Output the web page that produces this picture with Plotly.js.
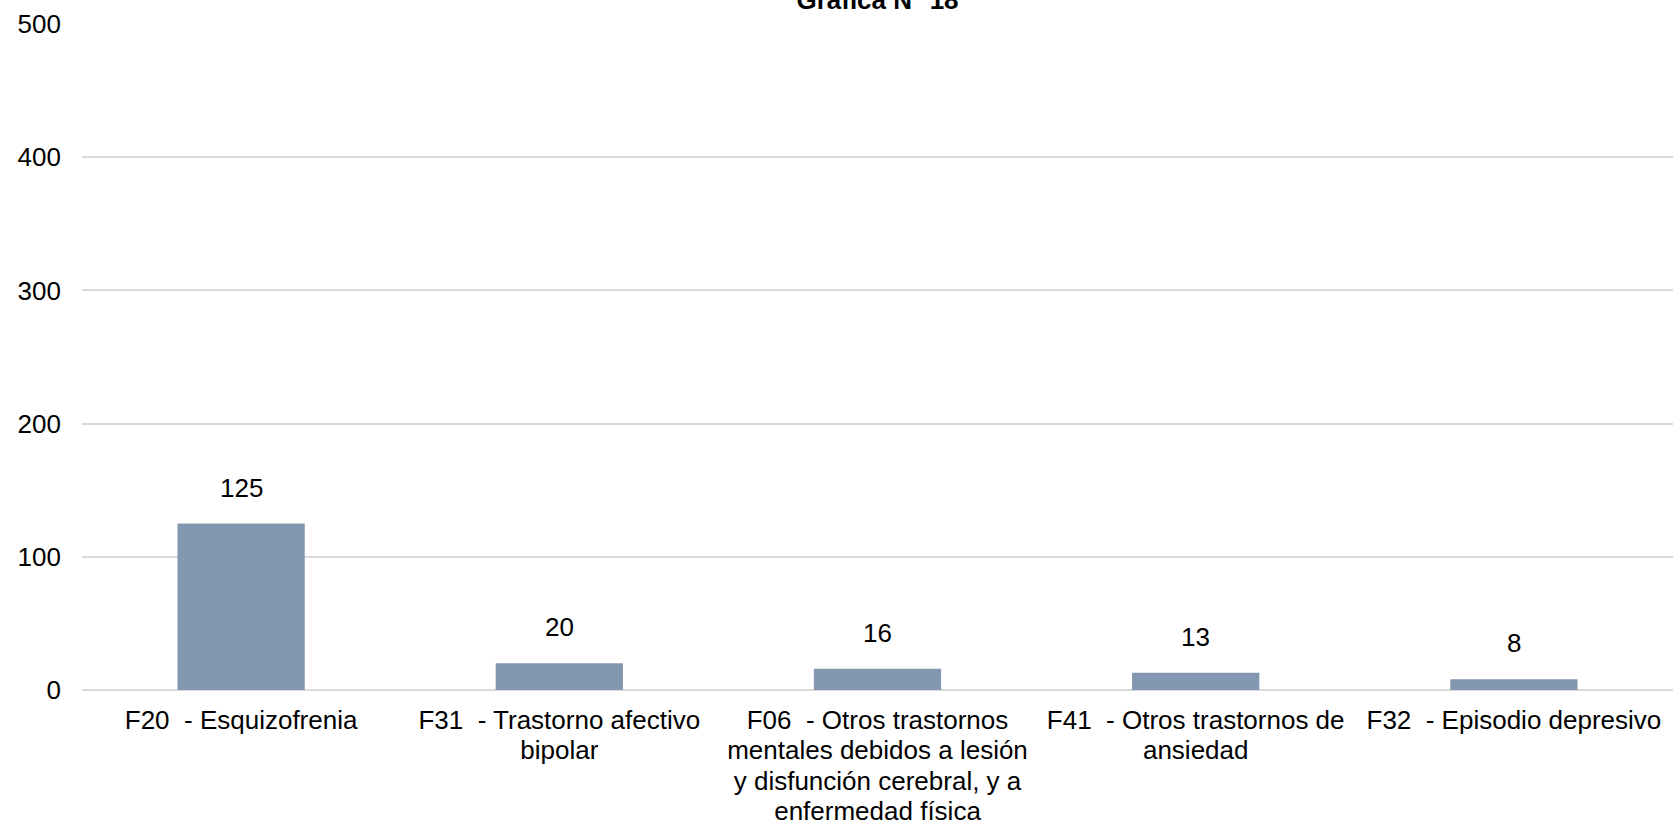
<!DOCTYPE html>
<html>
<head>
<meta charset="utf-8">
<script src="https://cdn.plot.ly/plotly-3.0.1.min.js"></script>
<style>html,body{margin:0;padding:0;background:#fff;}#chart{width:1673px;height:825px;}</style>
</head>
<body>
<div id="chart"></div>
<script>
const categories = ["F20", "F31", "F06", "F41", "F32"];
const tickLabels = [
  "F20  - Esquizofrenia",
  "F31  - Trastorno afectivo<br>bipolar",
  "F06  - Otros trastornos<br>mentales debidos a lesión<br>y disfunción cerebral, y a<br>enfermedad física",
  "F41  - Otros trastornos de<br>ansiedad",
  "F32  - Episodio depresivo"
];
const values = [125, 20, 16, 13, 8];
const titleText = "Gráfica N° 18";

const FONT = "Liberation Sans, Arial, sans-serif";

// glyphs at 26px, line pitch from the 23.2px base size (≈30px)
const styledTicks = tickLabels.map(l =>
  l.split("<br>").map(s => '<span style="font-size:26px">' + s + '</span>').join("<br>")
);

const annotations = categories.map((c, i) => ({
  x: c, y: values[i], xref: "x", yref: "y",
  text: String(values[i]), showarrow: false,
  yanchor: "middle", yshift: 36,
  font: {family: FONT, size: 26, color: "#000"}
}));

Plotly.newPlot("chart", [{
  type: "bar",
  x: categories,
  y: values,
  marker: {color: "#8497b0", line: {width: 0}},
  hoverinfo: "skip"
}], {
  width: 1673, height: 825,
  margin: {l: 82, r: 0, t: 24, b: 135, pad: 0},
  paper_bgcolor: "#fff", plot_bgcolor: "#fff",
  bargap: 0.6,
  showlegend: false,
  font: {family: FONT, size: 26, color: "#000"},
  title: {
    text: "<b>" + titleText + "</b>",
    font: {family: FONT, size: 26, color: "#000"},
    x: 0.5, xref: "paper", y: 1, yref: "container", yanchor: "middle"
  },
  xaxis: {
    type: "category",
    tickvals: categories, ticktext: styledTicks,
    showgrid: false, showline: false, zeroline: false, ticks: "",
    tickfont: {family: FONT, size: 23.2, color: "#000"},
    ticklabelstandoff: 15,
    fixedrange: true
  },
  yaxis: {
    range: [0, 500], dtick: 100, tick0: 0,
    showgrid: true, gridcolor: "#d9d9d9", gridwidth: 2,
    zeroline: true, zerolinecolor: "#d9d9d9", zerolinewidth: 2,
    showline: false, ticks: "",
    tickfont: {family: FONT, size: 26, color: "#000"},
    ticklabelstandoff: 20,
    fixedrange: true
  },
  annotations: annotations
}, {displayModeBar: false, staticPlot: true});
</script>
</body>
</html>
